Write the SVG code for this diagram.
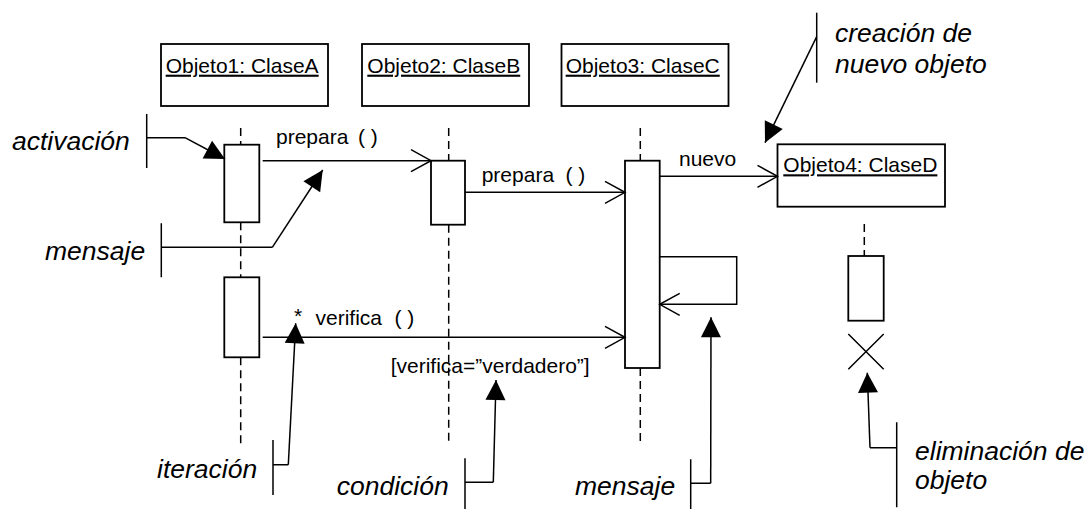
<svg xmlns="http://www.w3.org/2000/svg" width="1089" height="509" viewBox="0 0 1089 509">
<style>
  text { font-family: "Liberation Sans", Arial, sans-serif; fill: #000; white-space: pre; }
  .lbl { font-size: 21px; }
  .obj { font-size: 21px; text-decoration: underline; }
  .note { font-size: 26.5px; font-style: italic; }
  .box { fill: #fff; stroke: #000; stroke-width: 1.8; }
  .life { fill: none; stroke: #000; stroke-width: 1.5; stroke-dasharray: 8 5; }
  .msg { fill: none; stroke: #000; stroke-width: 1.5; marker-end: url(#open); }
  .ptr { fill: none; stroke: #000; stroke-width: 1.5; marker-end: url(#solid); }
  .brk { fill: none; stroke: #000; stroke-width: 1.5; }
</style>
<defs>
  <marker id="open" markerUnits="userSpaceOnUse" markerWidth="24" markerHeight="24" refX="20" refY="11" orient="auto" overflow="visible">
    <path d="M0,0 L20,11 L0,22" fill="none" stroke="#000" stroke-width="1.5"/>
  </marker>
  <marker id="solid" markerUnits="userSpaceOnUse" markerWidth="22" markerHeight="22" refX="20" refY="10" orient="auto" overflow="visible">
    <path d="M0,0 L20,10 L0,20 Z" fill="#000" stroke="none"/>
  </marker>
</defs>

<g id="lifelines">
  <path class="life" d="M240.7,128 V144.7 M240.7,222.3 V277.3 M240.7,357.3 V445"/>
  <path class="life" d="M448.7,128 V160.7 M448.7,224.7 V445"/>
  <path class="life" d="M640.3,128 V160.7 M640.3,368 V445"/>
  <path class="life" d="M864.3,224 V256"/>
</g>

<g id="objeto1">
  <rect class="box" x="161" y="44" width="167" height="62"/>
  <text class="obj" x="165.7" y="72.7">Objeto1: ClaseA</text>
</g>
<g id="objeto2">
  <rect class="box" x="362" y="44" width="167" height="62"/>
  <text class="obj" x="367.3" y="72.7">Objeto2: ClaseB</text>
</g>
<g id="objeto3">
  <rect class="box" x="561.5" y="44" width="167" height="62"/>
  <text class="obj" x="565.7" y="72.7">Objeto3: ClaseC</text>
</g>
<g id="objeto4">
  <rect class="box" x="777.5" y="144.3" width="167.5" height="62.4"/>
  <text class="obj" x="783.3" y="172.3">Objeto4: ClaseD</text>
</g>

<g id="activaciones">
  <rect class="box" x="224.3" y="144.7" width="35" height="77.6"/>
  <rect class="box" x="224.3" y="277.3" width="35" height="80"/>
  <rect class="box" x="431" y="160.7" width="34" height="64"/>
  <rect class="box" x="625" y="160.7" width="34.7" height="207.3"/>
  <rect class="box" x="848.3" y="256" width="35.4" height="64.7"/>
</g>

<g id="destruccion">
  <path class="brk" d="M848.3,334 L883.7,369.3 M883.7,334 L848.3,369.3"/>
</g>

<g id="connectors">
  <path class="msg" d="M262.7,160.7 H431"/>
  <path class="msg" d="M465,192.3 H625"/>
  <path class="msg" d="M659.7,176.3 H777.5"/>
  <path class="msg" d="M659.7,256.7 H736.7 V304.3 H659.7"/>
  <path class="msg" d="M262.7,337.3 H625"/>

  <path class="brk" d="M146.7,114 V168 M146.7,137.7 H185"/>
  <path class="ptr" d="M185,137.7 L225,159"/>

  <path class="brk" d="M161.3,223.3 V277.3 M161.3,247.3 H272.3"/>
  <path class="ptr" d="M272.3,247.3 L322.7,170"/>

  <path class="brk" d="M816.7,12.7 V82.7"/>
  <path class="ptr" d="M816.7,36.7 L765,142.7"/>

  <path class="brk" d="M273,440 V495 M273,464.7 H288.3"/>
  <path class="ptr" d="M288.3,464.7 L295.7,323.3"/>

  <path class="brk" d="M465,458.3 V509 M465,482.3 H493.3"/>
  <path class="ptr" d="M493.3,482.3 L496,380"/>

  <path class="brk" d="M690.7,459.3 V509 M690.7,483.3 H710.7"/>
  <path class="ptr" d="M710.7,483.3 L711,317.3"/>

  <path class="brk" d="M896.7,422.3 V507.3 M896.7,447.7 H870"/>
  <path class="ptr" d="M870,447.7 L867.3,372.7"/>
</g>

<g id="labels">
  <text class="lbl" x="276" y="144.3">prepara</text>
  <text class="lbl" x="358" y="144.3">( )</text>
  <text class="lbl" x="481.7" y="181.7">prepara</text>
  <text class="lbl" x="565.5" y="181.7">( )</text>
  <text class="lbl" x="679" y="165.7">nuevo</text>
  <text class="lbl" x="294" y="323">*</text>
  <text class="lbl" x="315.5" y="325">verifica</text>
  <text class="lbl" x="394.5" y="325">( )</text>
  <text class="lbl" x="390.7" y="373.3">[verifica=”verdadero”]</text>
</g>

<g id="notas">
  <text class="note" x="12" y="150">activación</text>
  <text class="note" x="45" y="260">mensaje</text>
  <text class="note" x="835" y="41.7">creación de</text>
  <text class="note" x="835" y="72.7">nuevo objeto</text>
  <text class="note" x="157" y="477.7">iteración</text>
  <text class="note" x="336.7" y="495">condición</text>
  <text class="note" x="575" y="495">mensaje</text>
  <text class="note" x="915" y="460">eliminación de</text>
  <text class="note" x="915" y="489.3">objeto</text>
</g>
</svg>
